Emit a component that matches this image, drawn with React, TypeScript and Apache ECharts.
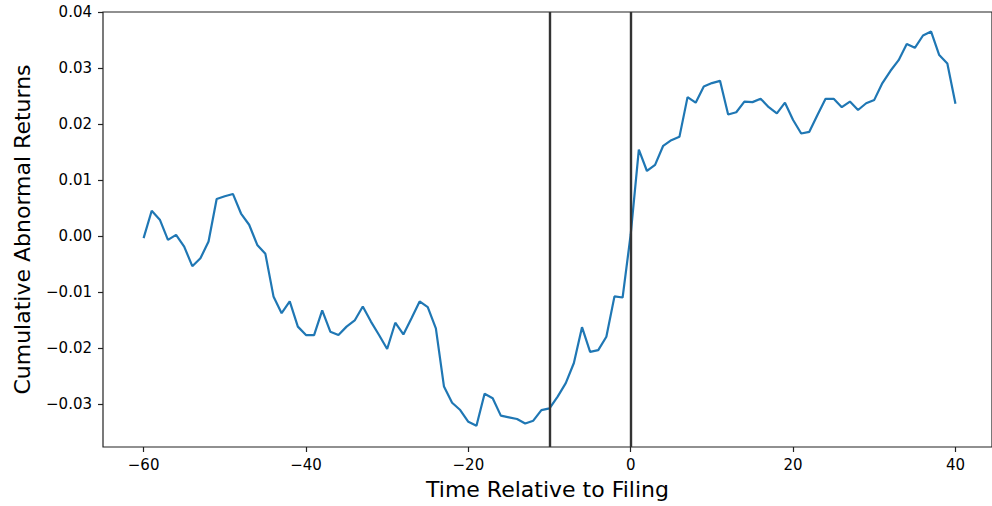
import React, { useEffect, useRef } from "react";
import * as echarts from "echarts";

const FIRST_DAY = -60;
const carValues: number[] = [
  -0.0004, 0.0045, 0.0029, -0.0007, 0.0002, -0.0019, -0.0054, -0.004, -0.001, 0.0066,
  0.0071, 0.0075, 0.004, 0.002, -0.0016, -0.0032, -0.0108, -0.0138, -0.0117, -0.0162,
  -0.0177, -0.0177, -0.0133, -0.0171, -0.0177, -0.0162, -0.0151, -0.0126, -0.0153, -0.0177,
  -0.0202, -0.0155, -0.0176, -0.0147, -0.0117, -0.0127, -0.0165, -0.0269, -0.0298, -0.0311,
  -0.0332, -0.0339, -0.0282, -0.029, -0.0321, -0.0324, -0.0327, -0.0335, -0.033, -0.0311,
  -0.0308, -0.0287, -0.0263, -0.0227, -0.0163, -0.0207, -0.0204, -0.018, -0.0108, -0.011,
  0.0003, 0.0154, 0.0116, 0.0127, 0.0161, 0.0171, 0.0177, 0.0248, 0.0238, 0.0267,
  0.0273, 0.0277, 0.0217, 0.0221, 0.024, 0.0239, 0.0245, 0.023, 0.0219, 0.0238,
  0.0207, 0.0183, 0.0186, 0.0216, 0.0245, 0.0245, 0.023, 0.024, 0.0225, 0.0237,
  0.0243, 0.0273, 0.0295, 0.0314, 0.0343, 0.0336, 0.0358, 0.0365, 0.0323, 0.0308,
  0.0236,
];
const xTicks: number[] = [-60, -40, -20, 0, 20, 40];
const yTicks: number[] = [-0.03, -0.02, -0.01, 0.0, 0.01, 0.02, 0.03, 0.04];
const eventLines: number[] = [-10, 0];
const xRange: number[] = [-65, 44.5];
const yRange: number[] = [-0.0377, 0.04];

const minus = (s: string) => s.replace("-", "\u2212");

export default function App() {
  const ref = useRef<HTMLDivElement>(null);
  useEffect(() => {
    if (!ref.current) return;
    const chart = echarts.init(ref.current, undefined, { renderer: "svg" });
    const data = carValues.map((v, i) => [FIRST_DAY + i, v]);
    const font = "DejaVu Sans";
    chart.setOption({
      animation: false,
      backgroundColor: "#fff",
      grid: {
        left: 103,
        top: 12,
        right: 0,
        height: 435,
        show: true,
        borderColor: "#222",
        borderWidth: 1.2,
        backgroundColor: "transparent",
      },
      xAxis: {
        type: "value",
        min: xRange[0],
        max: xRange[1],
        name: "Time Relative to Filing",
        nameLocation: "middle",
        nameGap: 31,
        nameTextStyle: { fontFamily: font, fontSize: 22, color: "#000" },
        axisLine: { show: false, onZero: false },
        splitLine: { show: false },
        axisTick: {
          show: true,
          inside: false,
          length: 5,
          customValues: xTicks,
          lineStyle: { color: "#222", width: 1.2 },
        },
        axisLabel: {
          customValues: xTicks,
          margin: 10,
          fontFamily: font,
          fontSize: 15,
          color: "#000",
          formatter: (v: number) => minus(String(v)),
        },
      },
      yAxis: {
        type: "value",
        min: yRange[0],
        max: yRange[1],
        name: "Cumulative Abnormal Returns",
        nameLocation: "middle",
        nameGap: 70,
        nameRotate: 90,
        nameTextStyle: { fontFamily: font, fontSize: 22, color: "#000" },
        axisLine: { show: false, onZero: false },
        splitLine: { show: false },
        axisTick: {
          show: true,
          inside: false,
          length: 5,
          customValues: yTicks,
          lineStyle: { color: "#222", width: 1.2 },
        },
        axisLabel: {
          customValues: yTicks,
          margin: 11,
          fontFamily: font,
          fontSize: 15,
          color: "#000",
          formatter: (v: number) => minus(v.toFixed(2)),
        },
      },
      series: [
        {
          type: "line",
          data,
          showSymbol: false,
          symbol: "none",
          lineStyle: { color: "#1f77b4", width: 2.2 },
          z: 2,
          markLine: {
            silent: true,
            symbol: "none",
            label: { show: false },
            lineStyle: { color: "#333", width: 2.4, type: "solid" },
            data: eventLines.map((x) => ({ xAxis: x })),
            z: 3,
          },
        },
      ],
    });
    return () => chart.dispose();
  }, []);
  return (
    <div
      ref={ref}
      style={{ position: "fixed", left: 0, top: 0, width: 992, height: 506 }}
    />
  );
}
